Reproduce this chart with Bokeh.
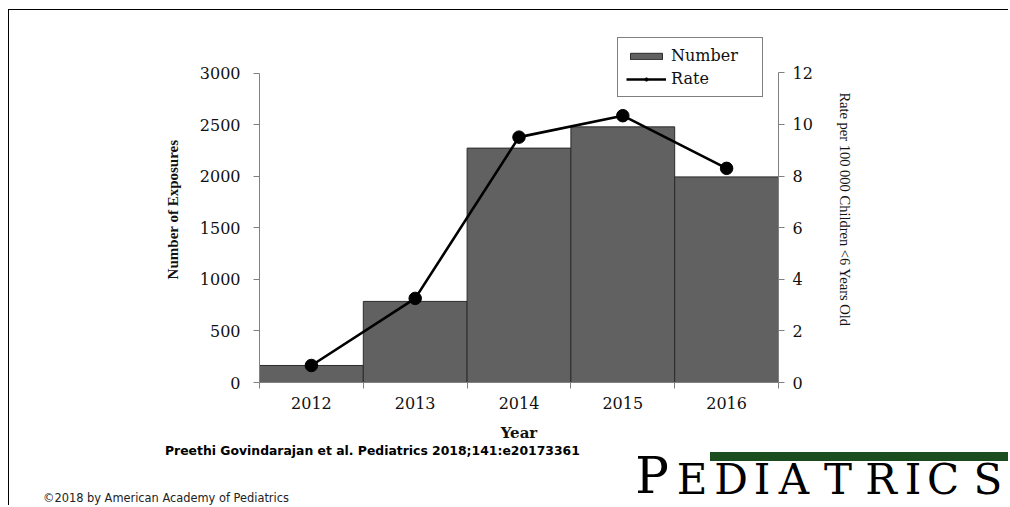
from bokeh.plotting import figure
from bokeh.models import (Range1d, LinearAxis, FixedTicker, Legend, LegendItem,
                          Label, BoxAnnotation, ColumnDataSource)
from bokeh.embed import file_html
from bokeh.resources import INLINE

years = ["2012", "2013", "2014", "2015", "2016"]
numbers = [165, 786, 2272, 2478, 1993]
rates = [0.66, 3.26, 9.51, 10.34, 8.30]
left_ticks = [0, 500, 1000, 1500, 2000, 2500, 3000]
right_ticks = [0, 2, 4, 6, 8, 10, 12]

xpos = list(range(1, len(years) + 1))
boundaries = [x - 0.5 for x in xpos] + [xpos[-1] + 0.5]
src = ColumnDataSource(dict(x=xpos, year=years, number=numbers, rate=rates))

p = figure(width=1000, height=434, output_backend="svg", toolbar_location=None,
           x_range=Range1d(0.5, 5.5), y_range=Range1d(0, 3354),
           min_border_left=250, min_border_right=231, min_border_top=26,
           min_border_bottom=62)
p.extra_y_ranges = {"rate": Range1d(0, 13.41)}
p.grid.visible = False
p.outline_line_color = None
p.background_fill_color = "white"
p.border_fill_color = "white"

bars = p.vbar(x="x", top="number", bottom=0, width=1.0, source=src,
              fill_color="#616161", line_color="#2b2b2b", line_width=1)
ln = p.line("x", "rate", source=src, y_range_name="rate", line_color="black",
            line_width=2.6)
pts = p.scatter("x", "rate", source=src, y_range_name="rate", size=12.5,
                fill_color="black", line_color="black")

axis_gray = "#808080"
tick_font = "DejaVu Serif"
text_black = "#111111"

ya = p.yaxis[0]
ya.ticker = FixedTicker(ticks=left_ticks, minor_ticks=[])
ya.bounds = (0, 3000)
ya.axis_label = "Number of Exposures"
ya.axis_label_text_font = "Liberation Serif"
ya.axis_label_text_font_style = "bold"
ya.axis_label_text_font_size = "15px"
ya.axis_label_text_color = text_black
ya.axis_label_standoff = 16
ya.major_label_text_font = tick_font
ya.major_label_text_font_size = "16px"
ya.major_label_text_color = text_black
ya.major_label_standoff = 13
ya.axis_line_color = axis_gray
ya.major_tick_line_color = axis_gray
ya.major_tick_out = 6
ya.major_tick_in = 0

ra = LinearAxis(y_range_name="rate", ticker=FixedTicker(ticks=right_ticks, minor_ticks=[]),
                bounds=(0, 12), axis_label="Rate per 100 000 Children <6 Years Old")
ra.axis_label_text_font = "Liberation Serif"
ra.axis_label_text_font_style = "normal"
ra.axis_label_text_font_size = "14.5px"
ra.axis_label_text_color = text_black
ra.axis_label_standoff = 21
ra.major_label_text_font = tick_font
ra.major_label_text_font_size = "16px"
ra.major_label_text_color = text_black
ra.major_label_standoff = 8
ra.axis_line_color = axis_gray
ra.major_tick_line_color = axis_gray
ra.major_tick_out = 6
ra.major_tick_in = 0
p.add_layout(ra, "right")

xa = p.xaxis[0]
xa.ticker = FixedTicker(ticks=xpos, minor_ticks=boundaries)
xa.major_label_overrides = {x: y for x, y in zip(xpos, years)}
xa.major_tick_line_color = None
xa.major_tick_out = 0
xa.major_tick_in = 0
xa.minor_tick_line_color = axis_gray
xa.minor_tick_out = 6
xa.minor_tick_in = 0
xa.axis_line_color = axis_gray
xa.major_label_text_font = tick_font
xa.major_label_text_font_size = "16px"
xa.major_label_text_color = text_black
xa.major_label_standoff = 8
xa.axis_label = "Year"
xa.axis_label_text_font = "DejaVu Serif"
xa.axis_label_text_font_style = "bold"
xa.axis_label_text_font_size = "15px"
xa.axis_label_text_color = text_black
xa.axis_label_standoff = 12

legend = Legend(items=[LegendItem(label="Number", renderers=[bars]),
                       LegendItem(label="Rate", renderers=[ln, pts])],
                location=(358, 285))
legend.border_line_color = "black"
legend.border_line_width = 1.5
legend.background_fill_color = "white"
legend.background_fill_alpha = 1
legend.label_text_font = "DejaVu Serif"
legend.label_text_font_size = "16px"
legend.label_text_color = text_black
legend.glyph_width = 40
legend.glyph_height = 8
legend.label_standoff = 5
legend.label_width = 83
legend.label_height = 14
legend.padding = 8
legend.spacing = 4
legend.margin = 0
p.add_layout(legend)

p.styles = {"border-left": "1.5px solid black", "border-top": "1.5px solid black",
            "margin-left": "8px", "margin-top": "9px"}

# footer: its frame covers the whole canvas, in page pixel coordinates
f = figure(width=1000, height=62, output_backend="svg", toolbar_location=None,
           x_range=Range1d(9.5, 1009.5), y_range=Range1d(506.5, 444.5),
           min_border=0, x_axis_location=None, y_axis_location=None)
f.grid.visible = False
f.outline_line_color = None
f.background_fill_color = "white"
f.border_fill_color = "white"
f.styles = {"border-left": "1.5px solid black", "margin-left": "8px"}

f.add_layout(Label(x=165, y=459, text="Preethi Govindarajan et al. Pediatrics 2018;141:e20173361",
                   text_font="DejaVu Sans", text_font_style="bold",
                   text_font_size="12.4px", text_color="black"))
f.add_layout(Label(x=43, y=506, text="\u00a92018 by American Academy of Pediatrics",
                   text_font="DejaVu Sans", text_font_size="11.4px",
                   text_color="#222222"))
f.add_layout(BoxAnnotation(left=710, right=1020, top=453, bottom=462,
                           fill_color="#1b4d1e", fill_alpha=1, line_color=None))

logo_letters = ["P", "E", "D", "I", "A", "T", "R", "I", "C", "S"]
logo_centers = [652, 692, 731, 762, 794, 838, 881, 913, 943, 988]
logo_sizes = ["50px"] + ["42px"] * 9
logo_bottoms = [506.4] + [504.5] * 9
for ch, cx, fs, yb in zip(logo_letters, logo_centers, logo_sizes, logo_bottoms):
    f.add_layout(Label(x=cx, y=yb, text=ch, text_align="center",
                       text_font="DejaVu Serif", text_font_size=fs,
                       text_color="black"))

open("out.html", "w").write(file_html([p, f], INLINE))
